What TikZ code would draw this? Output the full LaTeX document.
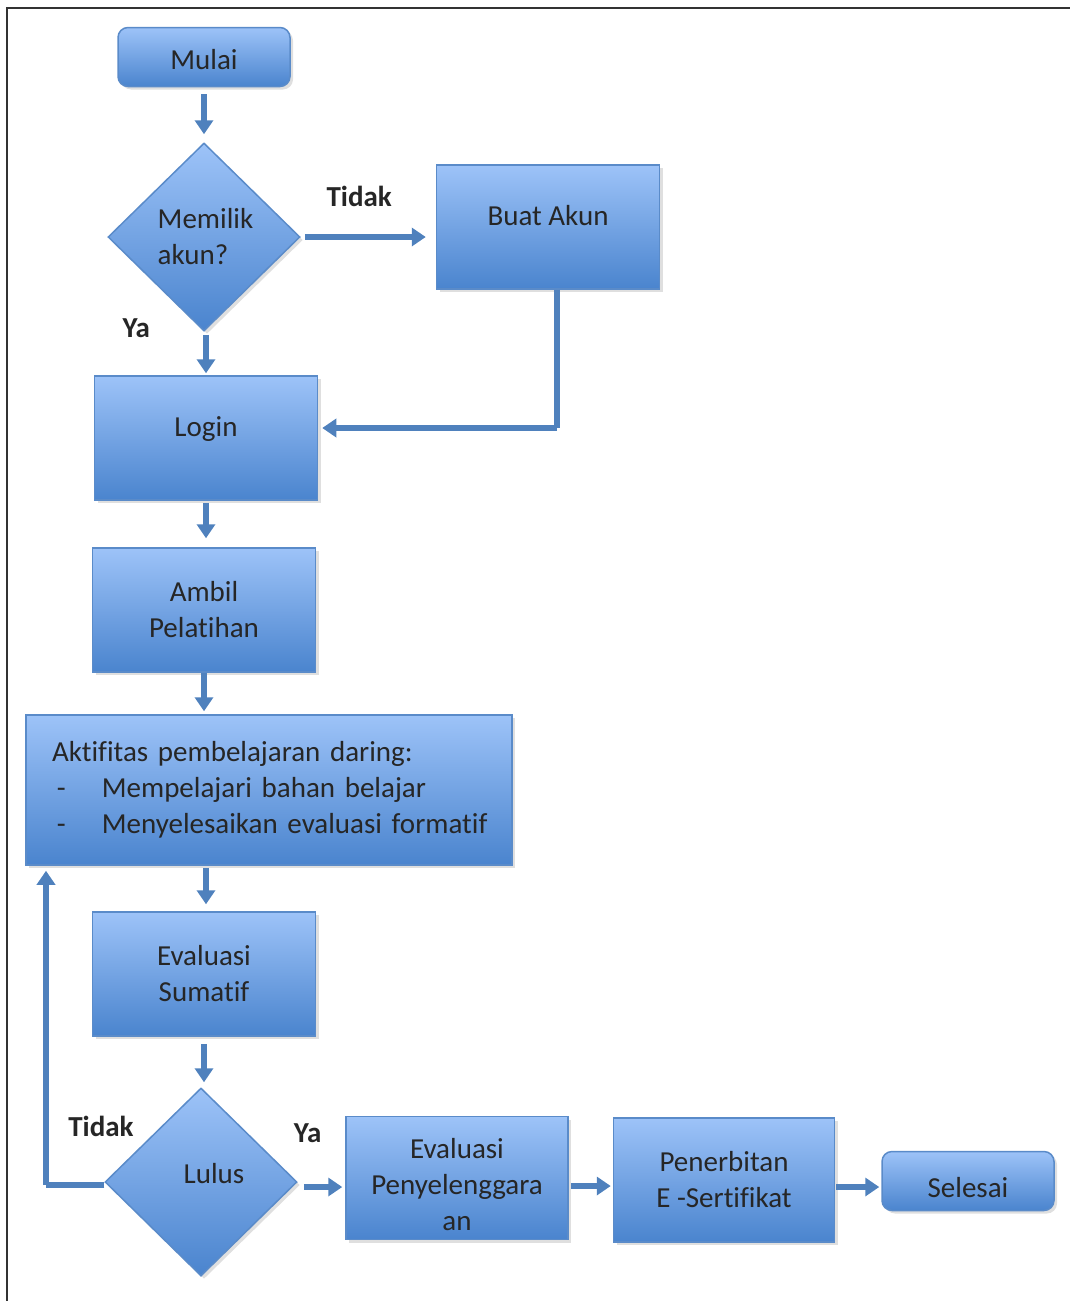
\documentclass[tikz,border=0pt]{standalone}
\usepackage{fontspec}
\setmainfont{Carlito}[Ligatures=NoCommon]
\usetikzlibrary{calc, shapes.geometric, arrows.meta, shadows}

\definecolor{boxtop}{HTML}{9DC3F8}
\definecolor{boxbottom}{HTML}{4A84CE}
\definecolor{boxline}{HTML}{5A8BC9}
\definecolor{flowblue}{HTML}{4F81BD}

\begin{document}
\begin{tikzpicture}[x=1pt, y=-1pt,
  every node/.style={font=\fontsize{29}{36}\selectfont, text=black!85},
  blok/.style={rectangle, draw=boxline, line width=1.5pt,
               top color=boxtop, bottom color=boxbottom,
               drop shadow={shadow xshift=3pt, shadow yshift=-3pt, opacity=0.25},
               minimum width=223pt, minimum height=124pt, align=center},
  ujung/.style={blok, rounded corners=10pt, minimum width=172pt, minimum height=59pt},
  keputusan/.style={diamond, draw=boxline, line width=1.5pt,
               top color=boxtop, bottom color=boxbottom,
               drop shadow={shadow xshift=3pt, shadow yshift=-3pt, opacity=0.25},
               minimum width=192pt, minimum height=188pt, inner sep=0pt, align=left},
  label/.style={font=\fontsize{29}{36}\selectfont\bfseries},
  panah/.style={flowblue, line width=5.5pt,
               -{Triangle[length=14pt, width=18pt]}},
  garis/.style={flowblue, line width=5.5pt}
]

  \useasboundingbox (0,0) rectangle (1070,1301);

  % --- Bingkai ---
  \draw[black!80, line width=2pt] (7,1301) -- (7,8) -- (1070,8);

  % --- Kolom utama ---
  \node[ujung] (mulai) at (204,57) {\raisebox{-3pt}[\height][\depth]{Mulai}};
  \node[keputusan] (akun) at (204,237) {\hspace*{3pt}Memilik\\\hspace*{3pt}akun?};
  \node[blok] (buat) at (548,227) {\raisebox{24pt}{Buat Akun}};
  \node[blok] (login) at (206,438) {\raisebox{22pt}{Login}};
  \node[blok] (ambil) at (204,610) {Ambil\\Pelatihan};
  \node[blok, minimum width=486pt, minimum height=150pt, align=left,
        text width=434pt] (aktif) at (269,790)
    {\mbox{Aktifitas pembelajaran daring:}\\
     \mbox{\hspace*{5pt}-\hspace{36pt}Mempelajari bahan belajar}\\
     \mbox{\hspace*{5pt}-\hspace{36pt}Menyelesaikan evaluasi formatif}};
  \node[blok] (sumatif) at (204,974) {Evaluasi\\Sumatif};
  \node[keputusan, align=center] (lulus) at (201,1182)
    {\raisebox{18pt}{\hspace*{26pt}Lulus}};

  % --- Baris bawah ---
  \node[blok, minimum width=222pt, minimum height=123pt] (penyelenggara) at (457,1178)
    {\raisebox{-9pt}[\height][\depth]{\begin{tabular}{@{}c@{}}Evaluasi\\Penyelenggara\\an\end{tabular}}};
  \node[blok, minimum width=221pt] (sertifikat) at (724,1180) {Penerbitan\\E -Sertifikat};
  \node[ujung] (selesai) at (968,1181) {\raisebox{-7pt}[\height][\depth]{Selesai}};

  % --- Titik bantu ---
  \coordinate (belokbuat) at ($(buat.south |- login.east)+(9,-10)$);
  \coordinate (belokulang) at ($(lulus.west -| 46,0)+(0,3)$);

  % --- Panah ---
  \draw[panah] ($(mulai.south)+(0,7)$) -- ($(akun.north)+(0,-8)$);
  \draw[panah] ($(akun.east)+(4,0)$) -- ($(akun.east -| buat.west)+(-10,0)$)
    node[label, pos=0.45, above=24pt] {Tidak};
  \draw[panah] ($(akun.south)+(2,3)$) -- ($(login.north)+(0,-2)$)
    node[label, pos=0, left=50pt, yshift=7pt] {Ya};
  \draw[garis] ($(buat.south)+(9,0)$) -- (belokbuat);
  \draw[panah] (belokbuat) -- ($(belokbuat -| login.east)+(4,0)$);
  \draw[panah] ($(login.south)+(0,2)$) -- ($(login.south |- ambil.north)+(0,-9)$);
  \draw[panah] (ambil.south) -- ($(aktif.north -| ambil.south)+(0,-3)$);
  \draw[panah] ($(aktif.south -| sumatif.north)+(2,2)$) -- ($(sumatif.north)+(2,-7)$);
  \draw[panah] ($(sumatif.south)+(0,7)$) -- ($(sumatif.south |- lulus.north)+(0,-5)$);
  \draw[garis] ($(lulus.west)+(0,3)$) -- (belokulang);
  \draw[panah] (belokulang) -- ($(aktif.south -| belokulang)+(0,5)$)
    node[label, pos=0, xshift=55pt, yshift=59pt] {Tidak};
  \draw[panah] ($(lulus.east)+(6,5)$) -- ($(lulus.east -| penyelenggara.west)+(-3,5)$)
    node[label, pos=0.1, above=38pt] {Ya};
  \draw[panah] ($(penyelenggara.east)+(2,8)$) -- ($(penyelenggara.east -| sertifikat.west)+(-2,8)$);
  \draw[panah] ($(sertifikat.east)+(1,7)$) -- ($(sertifikat.east -| selesai.west)+(-2,7)$);

\end{tikzpicture}
\end{document}
